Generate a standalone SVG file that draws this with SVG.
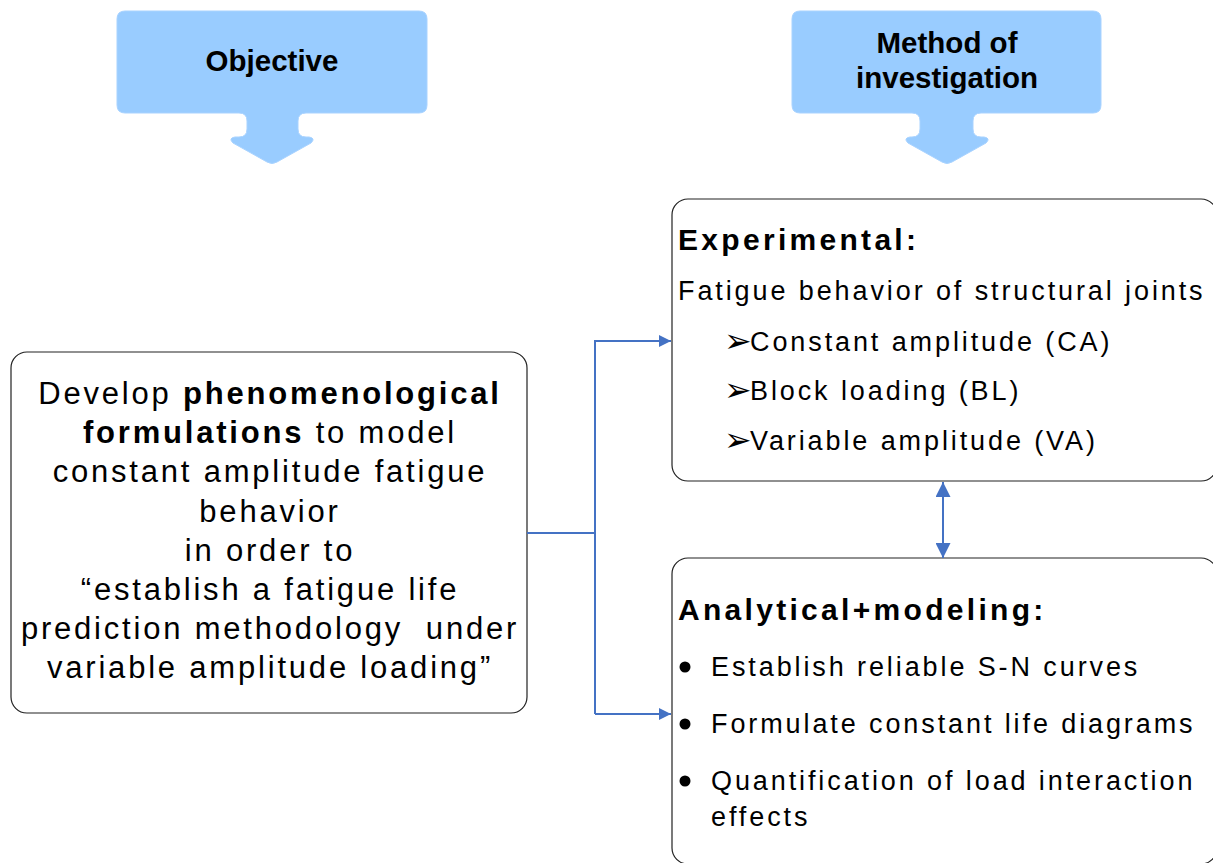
<svg xmlns="http://www.w3.org/2000/svg" width="1213" height="863" viewBox="0 0 1213 863">
<defs>
<style>
.callout{fill:#99CCFF;stroke:#A9D3FF;stroke-width:1}
.hdr{font-family:"Liberation Sans",Arial,sans-serif;font-weight:bold;font-size:29.5px;fill:#000;text-anchor:middle}
.box{fill:#fff;stroke:#222;stroke-width:1.2}
.main{font-family:"Liberation Sans",Arial,sans-serif;font-size:31px;letter-spacing:2.8px;fill:#000;text-anchor:middle}
.ttl{font-family:"Liberation Sans",Arial,sans-serif;font-weight:bold;font-size:30px;letter-spacing:3.3px;fill:#000}
.itm{font-family:"Liberation Sans",Arial,sans-serif;font-size:27px;letter-spacing:2.9px;fill:#000}
.arw{font-family:"DejaVu Sans",sans-serif;font-size:33px;fill:#000}
.conn{fill:none;stroke:#4472C4;stroke-width:2}
</style>
<marker id="ah" viewBox="0 0 10 10" refX="10" refY="5" markerWidth="12" markerHeight="12" markerUnits="userSpaceOnUse" orient="auto">
<path d="M0,0 L10,5 L0,10 Z" fill="#4472C4"/>
</marker>
<marker id="ah2" viewBox="0 0 10 10" refX="10" refY="5" markerWidth="16" markerHeight="15" markerUnits="userSpaceOnUse" orient="auto-start-reverse">
<path d="M0,0 L10,5 L0,10 Z" fill="#4472C4"/>
</marker>
</defs>
<rect width="1213" height="863" fill="#fff"/>

<g id="objective">
<path class="callout" d="M125,11 H419 Q427,11 427,19 V105 Q427,113 419,113 H306 Q298,113 298,121 V129 Q298,137 306,137 H309 Q316,138 311,143 L277,162 Q272,165 267,162 L233,143 Q228,138 235,137 H239 Q247,137 247,129 V121 Q247,113 239,113 H125 Q117,113 117,105 V19 Q117,11 125,11 Z"/>
<text class="hdr" x="272" y="71">Objective</text>
</g>

<g id="method">
<path class="callout" d="M800,11 H1093 Q1101,11 1101,19 V105 Q1101,113 1093,113 H981 Q973,113 973,121 V129 Q973,137 981,137 H984 Q991,138 986,143 L952,162 Q947,165 942,162 L908,143 Q903,138 910,137 H912 Q920,137 920,129 V121 Q920,113 912,113 H800 Q792,113 792,105 V19 Q792,11 800,11 Z"/>
<text class="hdr" x="947" y="53">Method of</text>
<text class="hdr" x="947" y="88">investigation</text>
</g>

<g id="goal">
<rect class="box" x="11" y="352" width="516" height="361" rx="16"/>
<text class="main" x="270" y="404">Develop <tspan font-weight="bold">phenomenological</tspan></text>
<text class="main" x="270" y="443"><tspan font-weight="bold">formulations</tspan> to model</text>
<text class="main" x="270" y="482">constant amplitude fatigue</text>
<text class="main" x="270" y="522">behavior</text>
<text class="main" x="270" y="561">in order to</text>
<text class="main" x="270" y="600">“establish a fatigue life</text>
<text class="main" x="270" y="639" xml:space="preserve">prediction methodology  under</text>
<text class="main" x="270" y="678">variable amplitude loading”</text>
</g>

<g id="experimental">
<rect class="box" x="672" y="199" width="545" height="282" rx="16"/>
<text class="ttl" x="678" y="250">Experimental:</text>
<text class="itm" x="678" y="300">Fatigue behavior of structural joints</text>
<text class="arw" x="724" y="352">➢</text>
<text class="itm" x="750" y="351">Constant amplitude (CA)</text>
<text class="arw" x="724" y="401">➢</text>
<text class="itm" x="750" y="400">Block loading (BL)</text>
<text class="arw" x="724" y="451">➢</text>
<text class="itm" x="750" y="450">Variable amplitude (VA)</text>
</g>

<g id="analytical">
<rect class="box" x="672" y="558" width="545" height="306" rx="16"/>
<text class="ttl" x="678" y="620">Analytical+modeling:</text>
<circle cx="685" cy="667" r="5.5" fill="#000"/>
<text class="itm" x="711" y="676">Establish reliable S-N curves</text>
<circle cx="685" cy="724" r="5.5" fill="#000"/>
<text class="itm" x="711" y="733">Formulate constant life diagrams</text>
<circle cx="685" cy="781" r="5.5" fill="#000"/>
<text class="itm" x="711" y="790">Quantification of load interaction</text>
<text class="itm" x="711" y="826">effects</text>
</g>

<g id="connectors">
<path class="conn" d="M527,533 H595"/>
<path class="conn" d="M595,714 V341 H671" marker-end="url(#ah)"/>
<path class="conn" d="M595,714 H671" marker-end="url(#ah)"/>
<path class="conn" d="M943,482 V558" marker-start="url(#ah2)" marker-end="url(#ah2)"/>
</g>
</svg>
